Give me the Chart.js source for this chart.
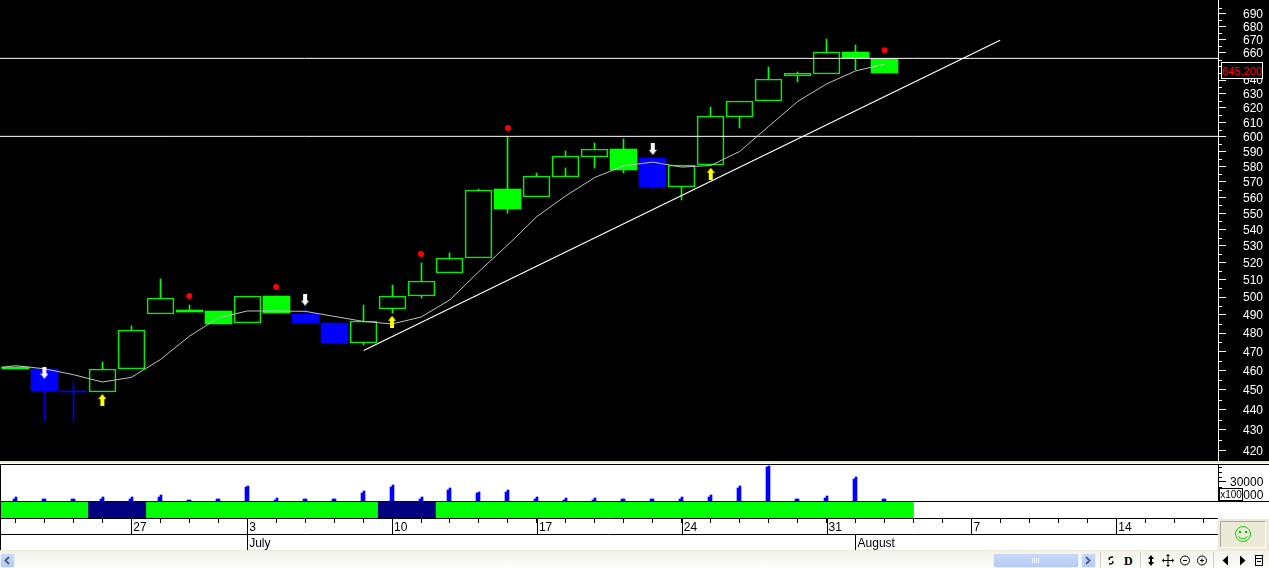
<!DOCTYPE html>
<html>
<head>
<meta charset="utf-8">
<title>Chart</title>
<script src="https://cdn.jsdelivr.net/npm/chart.js@4/dist/chart.umd.min.js"></script>
<style>
  html, body { margin: 0; padding: 0; width: 1269px; height: 568px; overflow: hidden; background: #fff; }
  canvas, .box { position: absolute; display: block; }
  #priceChart { left: 0; top: 0; background: #000; }
  #volChart { left: 0; top: 465px; }
  #bandChart { left: 0; top: 502px; }
  #lastPrice { left: 1221px; top: 62px; width: 40px; height: 15px; border: 1px solid #fff; background: #000; color: #f00;
    font: 11px/16px "Liberation Sans", sans-serif; text-align: center; white-space: nowrap; }
  #unitBox { left: 1219px; top: 488px; width: 22px; height: 11px; border: 1px solid #000; background: #fff; color: #000;
    font: 10px/11px "Liberation Sans", sans-serif; text-align: center; }
  #toolbar { left: 0; top: 550px; }
</style>
</head>
<body>
<canvas id="priceChart" width="1269" height="461"></canvas>
<div class="box" style="left:0;top:461px;width:1269px;height:2px;background:#ece9d8"></div>
<div class="box" style="left:0;top:464px;width:1269px;height:1px;background:#000"></div>
<canvas id="volChart" width="1269" height="36"></canvas>
<div class="box" style="left:0;top:501px;width:1269px;height:1px;background:#000"></div>
<canvas id="bandChart" width="1218" height="48"></canvas>
<div class="box" style="left:0;top:464px;width:1px;height:86px;background:#000"></div>
<div id="lastPrice" class="box">645.200</div>
<div id="unitBox" class="box">x100</div>
<div class="box" style="left:1218px;top:519px;width:51px;height:31px;background:#ece9d8"></div>
<svg class="box" style="left:1220px;top:521px" width="46" height="27">
  <rect x="0.5" y="0.5" width="45" height="26" fill="#ece9d8" stroke="#fff"/>
  <path d="M0.5 26V0.5H45.5" fill="none" stroke="#aca899"/>
  <circle cx="23" cy="13" r="7.5" fill="none" stroke="#00e000"/>
  <rect x="19" y="10" width="2" height="2" fill="#00c000"/>
  <rect x="25" y="10" width="2" height="2" fill="#00c000"/>
  <path d="M18.5 15.5Q23 20 27.5 15.5" fill="none" stroke="#00e000"/>
</svg>
<svg id="toolbar" class="box" width="1269" height="18">
  <defs>
    <linearGradient id="bar" x1="0" y1="0" x2="0" y2="1"><stop offset="0" stop-color="#f3f2ea"/><stop offset="1" stop-color="#fdfdfb"/></linearGradient>
    <linearGradient id="thumb" x1="0" y1="0" x2="0" y2="1"><stop offset="0" stop-color="#c9daf8"/><stop offset="1" stop-color="#b4cbf5"/></linearGradient>
  </defs>
  <rect width="1269" height="18" fill="url(#bar)"/>
  <rect y="0" width="1269" height="1" fill="#ece9d8"/>
  <rect x="0.5" y="3.5" width="14" height="14" rx="2" fill="url(#thumb)" stroke="#e8eefc"/>
  <path d="M9 7L5.5 10.5L9 14" fill="none" stroke="#4d6185" stroke-width="2"/>
  <rect x="993.5" y="3.5" width="85" height="14" rx="2" fill="url(#thumb)" stroke="#e8eefc"/>
  <path d="M1032.5 8v5M1034.5 8v5M1036.5 8v5M1038.5 8v5" stroke="#eef3fd"/>
  <rect x="1081.5" y="3.5" width="14" height="14" rx="2" fill="url(#thumb)" stroke="#e8eefc"/>
  <path d="M1086 7L1089.5 10.5L1086 14" fill="none" stroke="#4d6185" stroke-width="2"/>
  <path d="M1100.5 2v15M1140.5 2v15M1213.5 2v15" stroke="#cfcdc0"/>
  <path d="M1113 7Q1108 7 1109.5 10M1109 14Q1114 14 1112.5 11" fill="none" stroke="#000" stroke-width="1.5"/>
  <text x="1124" y="14.5" font-family="Liberation Serif" font-size="12" font-weight="bold" fill="#000">D</text>
  <path d="M1151 5l3 4h-6zM1151 16l3 -4h-6z" fill="#000"/><path d="M1151 8v5" stroke="#000" stroke-width="2"/>
  <path d="M1168 5v11M1162.5 10.5h11" stroke="#000"/><path d="M1168 4l2 2h-4zM1168 17l2 -2h-4zM1162 10.5l2 -2v4zM1174 10.5l-2 -2v4z" fill="#000"/>
  <circle cx="1185" cy="10.5" r="4.5" fill="none" stroke="#000"/><path d="M1183 10.5h4" stroke="#000"/>
  <circle cx="1202" cy="10.5" r="4.5" fill="none" stroke="#000"/><path d="M1200 10.5h4M1202 8.5v4" stroke="#000"/>
  <path d="M1228 5.5v10l-5.5 -5z" fill="#000"/>
  <path d="M1240 5.5v10l5.5 -5z" fill="#000"/>
  <rect x="1255.5" y="5.5" width="7" height="10" fill="none" stroke="#000"/><path d="M1255.5 8.5h7M1257 11.5h4" stroke="#000"/>
</svg>

<script>
// daily candles, index 0 is the first session on screen
const openPx = [461.9, 460.8, 449.3, 448.7, 460.6, 490.3, 492.9, 492.4, 485.3, 500.8, 490.7, 485.7, 474.4, 493.3, 500.4, 514.2,
  522.5, 565.6, 560.6, 573.5, 586.7, 591.7, 585.8, 566.4, 580.8, 614.0, 624.6, 642.6, 644.7, 660.8, 655.4];
const closePx = [461.0, 449.2, 448.8, 460.8, 481.7, 499.5, 491.8, 485.1, 500.6, 490.8, 485.7, 474.8, 486.6, 500.6, 509.3, 522.7,
  564.7, 553.0, 573.8, 587.0, 591.7, 578.1, 566.9, 581.0, 614.3, 624.8, 640.5, 645.0, 660.6, 656.3, 645.2];
const highPx = [461.9, 460.8, 454.2, 464.6, 484.0, 510.6, 495.7, 492.4, 500.6, 500.8, 493.3, 485.7, 495.7, 507.1, 519.9, 525.7,
  565.6, 600.2, 575.7, 590.3, 595.9, 598.6, 585.8, 581.0, 620.8, 624.8, 649.7, 646.0, 670.7, 666.1, 655.4];
const lowPx = [461.0, 434.1, 434.1, 448.7, 460.6, 490.3, 491.8, 485.1, 485.3, 490.8, 485.7, 474.8, 473.7, 490.8, 499.3, 514.2,
  522.5, 549.9, 560.6, 573.5, 578.8, 576.1, 565.6, 558.7, 580.8, 606.2, 624.6, 638.9, 644.7, 647.7, 645.2];
// h = hollow, g = solid green, b = solid blue
const candleKind = ['g', 'b', 'b', 'h', 'h', 'h', 'g', 'g', 'h', 'g', 'b', 'b', 'h', 'h', 'h', 'h',
  'h', 'g', 'h', 'h', 'h', 'g', 'b', 'h', 'h', 'h', 'h', 'h', 'h', 'g', 'g'];
// short stub inside the body of session 19
const stubIndex = [19];
const stubRange = [[573.5, 579.2]];

const maValues = [462.5, 460.9, 457.8, 454.0, 456.4, 465.7, 478.2, 488.3, 492.2, 492.2, 492.0, 489.2, 486.4, 485.0, 488.8, 498.5,
  514.8, 530.7, 548.0, 561.1, 572.9, 580.5, 583.0, 579.7, 580.7, 590.1, 607.1, 624.6, 637.2, 646.7, 651.7];
const maStart = 461.6;

const levelValues = [656.0, 600.3];
const trendIndex = [12.02, 33.99];
const trendValues = [470.6, 669.7];

const dotIndex = [6, 9, 14, 17, 30];
const dotValues = [500.6, 505.8, 525.1, 606.0, 662.1];
const sellIndex = [1, 10, 22];
const sellValues = [458.9, 498.6, 591.9];
const buyIndex = [3, 13, 24];
const buyValues = [444.8, 486.2, 575.3];

const volumeLeft = [3100, 3100, 3100, 3100, 3100, 6200, 1600, 3100, 21400, 1600, 3100, 3100, 12500, 21900, 3100, 17200,
  12500, 14000, 3100, 1600, 1600, 3100, 3100, 3100, 6200, 20300, 52700, 3100, 4700, 34400, 3100];
const volumeRight = [6200, 3100, 3100, 6200, 6200, 9400, 1600, 3100, 23400, 4700, 3100, 3100, 15600, 25000, 6200, 20300,
  14000, 17200, 6200, 4700, 4700, 3100, 3100, 6200, 9400, 23400, 54700, 3100, 7800, 37500, 3100];

const bandFrom = [-0.5, 2.5, 4.5, 12.5, 14.5];
const bandTo = [2.5, 4.5, 12.5, 14.5, 31];
const bandColor = ['#00ff00', '#000080', '#00ff00', '#000080', '#00ff00'];

const priceTicks = [420, 430, 440, 450, 460, 470, 480, 490, 500, 510, 520, 530, 540, 550, 560, 570, 580, 590,
  600, 610, 620, 630, 640, 650, 660, 670, 680, 690];
const priceMinorTicks = [425, 435, 445, 455, 465, 475, 485, 495, 505, 515, 525, 535, 545, 555, 565, 575, 585, 595,
  605, 615, 625, 635, 645, 655, 665, 675, 685, 695];
const volumeTicks = [10000, 30000];
const volumeMinorTicks = [15000, 22500, 37500, 45000, 52500];
const dayTicks = [0, 1, 2, 3, 4, 5, 6, 7, 8, 9, 10, 11, 12, 13, 14, 15, 16, 17, 18, 19, 20, 21, 22, 23, 24, 25, 26, 27, 28,
  29, 30, 31, 32, 33, 34, 35, 36, 37, 38, 39, 40, 41];
const dayLabelIndex = [4, 8, 13, 18, 23, 28, 33, 38];
const dayLabels = ['27', '3', '10', '17', '24', '31', '7', '14'];
const monthIndex = [8, 29];
const monthLabels = ['July', 'August'];

const xMin = -0.532;
const xMax = 41.51;

Chart.defaults.font.family = '"Liberation Sans", Arial, sans-serif';
Chart.defaults.font.size = 12;
Chart.defaults.animation = false;

function makeArrow(color, up) {
  const c = document.createElement('canvas');
  c.width = 8;
  c.height = 12;
  const g = c.getContext('2d');
  g.fillStyle = color;
  g.fillRect(2, up ? 4 : 0, 4, 8);
  g.beginPath();
  if (up) {
    g.moveTo(4, 0); g.lineTo(8, 5); g.lineTo(0, 5);
  } else {
    g.moveTo(4, 12); g.lineTo(8, 7); g.lineTo(0, 7);
  }
  g.fill();
  return c;
}

function xScale() {
  return { type: 'linear', display: false, min: xMin, max: xMax, offset: false, grid: { offset: false } };
}

// stop the axes from taking room for half a label at each end
function noEdgePadding(s) {
  s.paddingTop = 0;
  s.paddingBottom = 0;
  s.paddingLeft = 0;
  s.paddingRight = 0;
}

function baseOptions(scales) {
  return {
    responsive: false,
    devicePixelRatio: 1,
    events: [],
    layout: { autoPadding: false, padding: 0 },
    plugins: { legend: { display: false }, tooltip: { enabled: false } },
    scales: scales
  };
}

// short ticks between the labelled ones
function minorTickPlugin(values, color) {
  return {
    id: 'minorTicks',
    afterDraw(chart) {
      const s = chart.scales.y;
      const ctx = chart.ctx;
      ctx.save();
      ctx.strokeStyle = color;
      ctx.lineWidth = 1;
      values.forEach(function (v) {
        const y = Math.round(s.getPixelForValue(v)) + 0.5;
        ctx.beginPath();
        ctx.moveTo(s.left, y);
        ctx.lineTo(s.left + 4, y);
        ctx.stroke();
      });
      ctx.restore();
    }
  };
}

// the original is drawn without anti-aliasing, so snap bar edges to whole pixels
function snapBarsPlugin(xOffset) {
  return {
    id: 'snapBars',
    afterDatasetsUpdate(chart) {
      chart.data.datasets.forEach(function (ds, i) {
        if (ds.type == 'line') return;
        chart.getDatasetMeta(i).data.forEach(function (el) {
          el.x = Math.floor(el.x) + xOffset;
          el.y = Math.round(el.y);
          el.base = Math.round(el.base);
          if (el.base == el.y) el.base = el.y + 1;
        });
      });
    }
  };
}

// candle datasets
const hollow = [], solidGreen = [], solidBlue = [], wickGreen = [], wickBlue = [];
openPx.forEach(function (o, i) {
  const c = closePx[i];
  const body = { x: i, y: [o, c] };
  if (candleKind[i] == 'h') hollow.push(body);
  if (candleKind[i] == 'g') solidGreen.push(body);
  if (candleKind[i] == 'b') solidBlue.push(body);
  const wicks = candleKind[i] == 'b' ? wickBlue : wickGreen;
  if (highPx[i] > Math.max(o, c)) wicks.push({ x: i, y: [Math.max(o, c), highPx[i]] });
  if (lowPx[i] < Math.min(o, c)) wicks.push({ x: i, y: [lowPx[i], Math.min(o, c)] });
});
stubIndex.forEach(function (idx, n) {
  wickGreen.push({ x: idx, y: stubRange[n] });
});

const maLine = [{ x: xMin + 0.05, y: maStart }].concat(maValues.map(function (v, i) { return { x: i, y: v }; }));

function pairs(xs, ys) {
  return xs.map(function (x, i) { return { x: x, y: ys[i] }; });
}

function bodyBar(label, data, fill, stroke) {
  return {
    type: 'bar', label: label, data: data, grouped: false, order: 4, barThickness: 27,
    backgroundColor: fill, borderColor: stroke, borderWidth: stroke ? 1 : 0, borderSkipped: false
  };
}

function wickBar(label, data, color) {
  return { type: 'bar', label: label, data: data, grouped: false, order: 5, barThickness: 1, backgroundColor: color };
}

function flatLine(label, data, color, width) {
  return { type: 'line', label: label, data: data, borderColor: color, borderWidth: width, pointRadius: 0, tension: 0, order: 2 };
}

function markers(label, data, style, size, color) {
  return {
    type: 'line', label: label, data: data, showLine: false, order: 1,
    pointStyle: style, pointRadius: size, pointBackgroundColor: color, pointBorderColor: color, pointBorderWidth: 0
  };
}

new Chart('priceChart', {
  type: 'bar',
  data: {
    datasets: [
      wickBar('wick up', wickGreen, '#00ff00'),
      wickBar('wick down', wickBlue, '#0000e0'),
      bodyBar('hollow', hollow, 'transparent', '#00f000'),
      bodyBar('green', solidGreen, '#00ff00', null),
      bodyBar('blue', solidBlue, '#0000ff', null),
      flatLine('average', maLine, '#c0c0c0', 1),
      flatLine('level 1', pairs([xMin, xMax], [levelValues[0], levelValues[0]]), '#ffffff', 1),
      flatLine('level 2', pairs([xMin, xMax], [levelValues[1], levelValues[1]]), '#ffffff', 1),
      flatLine('trend', pairs(trendIndex, trendValues), '#ffffff', 1.2),
      markers('top', pairs(dotIndex, dotValues), 'circle', 3, '#ff0000'),
      markers('sell', pairs(sellIndex, sellValues), makeArrow('#ffffff', false), 6, '#ffffff'),
      markers('buy', pairs(buyIndex, buyValues), makeArrow('#ffff00', true), 6, '#ffff00')
    ]
  },
  options: baseOptions({
    x: xScale(),
    y: {
      type: 'logarithmic',
      position: 'right',
      min: 415,
      max: 701,
      afterBuildTicks(s) { s.ticks = priceTicks.map(function (v) { return { value: v }; }); },
      afterFit(s) { s.width = 51; noEdgePadding(s); },
      border: { display: true, color: '#ffffff' },
      grid: { drawOnChartArea: false, tickLength: 8, color: '#ffffff' },
      ticks: { color: '#ffffff', padding: 17, labelOffset: 1, autoSkip: false, callback: function (v) { return String(v); } }
    }
  }),
  plugins: [minorTickPlugin(priceMinorTicks, '#ffffff'), snapBarsPlugin(0.5)]
});

new Chart('volChart', {
  type: 'bar',
  data: {
    datasets: [
      { label: 'volume low', data: pairs(dayTicks.slice(0, volumeLeft.length), volumeLeft), backgroundColor: '#0000ff', barThickness: 2 },
      { label: 'volume', data: pairs(dayTicks.slice(0, volumeRight.length), volumeRight), backgroundColor: '#0000ff', barThickness: 2 }
    ]
  },
  options: baseOptions({
    x: xScale(),
    y: {
      type: 'linear',
      position: 'right',
      min: 0,
      max: 56250,
      afterBuildTicks(s) { s.ticks = volumeTicks.map(function (v) { return { value: v }; }); },
      afterFit(s) { s.width = 51; noEdgePadding(s); },
      border: { display: true, color: '#000000' },
      grid: { drawOnChartArea: false, tickLength: 8, color: '#000000' },
      ticks: { color: '#000000', padding: 4, labelOffset: 1, autoSkip: false, callback: function (v) { return String(v); } }
    }
  }),
  plugins: [minorTickPlugin(volumeMinorTicks, '#000000'), snapBarsPlugin(0)]
});

new Chart('bandChart', {
  type: 'bar',
  data: {
    labels: ['state'],
    datasets: bandFrom.map(function (from, i) {
      return {
        label: 'state ' + i, data: [[from, bandTo[i]]], grouped: false, xAxisID: 'x',
        backgroundColor: bandColor[i], barPercentage: 1, categoryPercentage: 1
      };
    })
  },
  options: Object.assign(baseOptions({
    y: { type: 'category', display: false },
    x: {
      type: 'linear', position: 'bottom', weight: 0, min: xMin, max: xMax, offset: false,
      afterBuildTicks(s) { s.ticks = dayTicks.map(function (v) { return { value: v }; }); },
      afterFit(s) { s.height = 16; noEdgePadding(s); },
      border: { display: true, color: '#000000' },
      grid: { offset: false, drawOnChartArea: false, tickLength: 5, color: '#000000' },
      ticks: {
        color: '#000000', padding: -3, align: 'start', labelOffset: 2, autoSkip: false, maxRotation: 0, minRotation: 0,
        callback: function (v) { const n = dayLabelIndex.indexOf(v); return n < 0 ? '' : dayLabels[n]; }
      }
    },
    month: {
      type: 'linear', position: 'bottom', weight: 1, min: xMin, max: xMax, offset: false,
      afterBuildTicks(s) { s.ticks = monthIndex.map(function (v) { return { value: v }; }); },
      afterFit(s) { s.height = 16; noEdgePadding(s); },
      border: { display: true, color: '#000000' },
      grid: { offset: false, drawOnChartArea: false, tickLength: 16, color: '#000000' },
      ticks: {
        color: '#000000', padding: -14, align: 'start', labelOffset: 2, autoSkip: false, maxRotation: 0, minRotation: 0,
        callback: function (v) { return monthLabels[monthIndex.indexOf(v)]; }
      }
    }
  }), { indexAxis: 'y' }),
  plugins: [{
    id: 'dayRowTicks',
    afterDraw(chart) {
      const s = chart.scales.x;
      const ctx = chart.ctx;
      ctx.save();
      ctx.strokeStyle = '#000000';
      ctx.lineWidth = 1;
      dayLabelIndex.forEach(function (i) {
        const x = Math.round(s.getPixelForValue(i)) + 0.5;
        ctx.beginPath();
        ctx.moveTo(x, s.top);
        ctx.lineTo(x, s.bottom);
        ctx.stroke();
      });
      ctx.restore();
    }
  }]
});
</script>
</body>
</html>
